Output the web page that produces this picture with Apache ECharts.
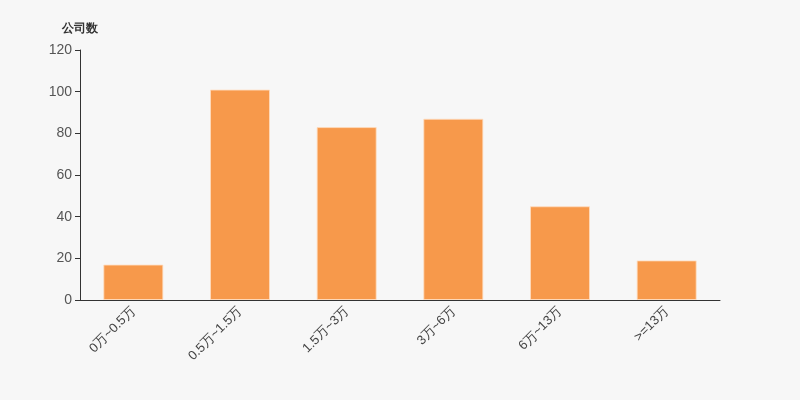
<!DOCTYPE html>
<html><head><meta charset="utf-8">
<script src="https://cdn.jsdelivr.net/npm/echarts@6/dist/echarts.min.js"></script>
<style>html,body{margin:0;padding:0;background:#f7f7f7;}#c{width:800px;height:400px;}</style>
</head><body><div id="c"></div>
<script>
const categories = ['0万~0.5万','0.5万~1.5万','1.5万~3万','3万~6万','6万~13万','>=13万'];
const values = [17, 101, 83, 87, 45, 19];
const yTicks = { min: 0, max: 120, interval: 20 };

const chart = echarts.init(document.getElementById('c'));
chart.setOption({
  backgroundColor: '#f7f7f7',
  animation: false,
  grid: { left: 80, right: 80, top: 50, bottom: 100 },
  xAxis: {
    type: 'category',
    data: categories,
    axisLine: { lineStyle: { color: '#333' } },
    axisTick: { lineStyle: { color: '#333' } },
    axisLabel: { rotate: 45, color: '#444', fontSize: 13, fontFamily: 'sans-serif', interval: 0, margin: 9 }
  },
  yAxis: {
    type: 'value',
    min: yTicks.min, max: yTicks.max, interval: yTicks.interval,
    name: '公司数',
    nameGap: 15,
    nameTextStyle: { color: '#333', fontWeight: 'bold', fontSize: 12 },
    axisLine: { show: true, lineStyle: { color: '#333' } },
    axisTick: { show: true, length: 5, lineStyle: { color: '#333' } },
    axisLabel: { color: '#555', fontSize: 14, margin: 8 },
    splitLine: { show: false }
  },
  series: [{
    type: 'bar',
    data: values,
    barWidth: 60,
    itemStyle: { color: '#f7994b', borderColor: 'rgba(255,220,190,0.8)', borderWidth: 1 }
  }]
});
</script></body></html>
